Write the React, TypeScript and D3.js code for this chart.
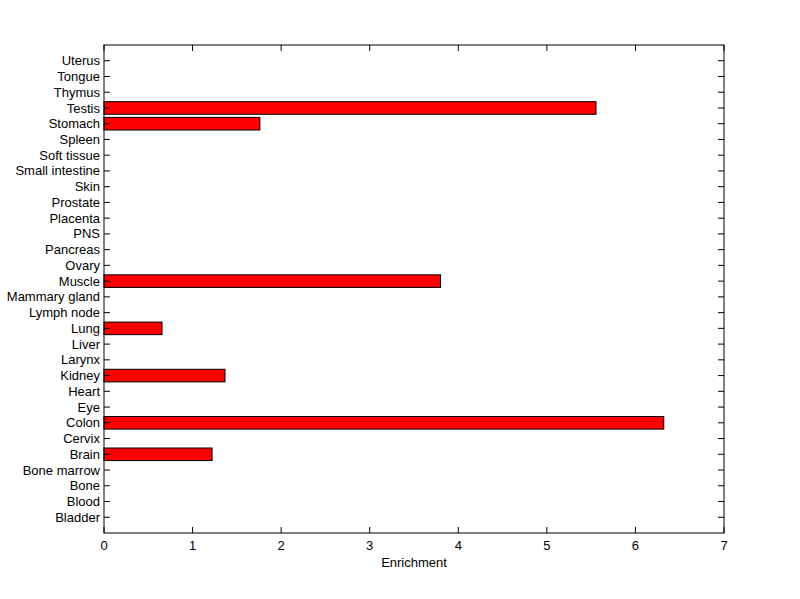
import React from "react";
import * as d3 from "d3";

const categories = [
  "Bladder", "Blood", "Bone", "Bone marrow", "Brain", "Cervix", "Colon", "Eye", "Heart", "Kidney",
  "Larynx", "Liver", "Lung", "Lymph node", "Mammary gland", "Muscle", "Ovary", "Pancreas", "PNS",
  "Placenta", "Prostate", "Skin", "Small intestine", "Soft tissue", "Spleen", "Stomach", "Testis",
  "Thymus", "Tongue", "Uterus",
];
const values = [
  0, 0, 0, 0, 1.22, 0, 6.32, 0, 0, 1.366,
  0, 0, 0.655, 0, 0, 3.8, 0, 0, 0,
  0, 0, 0, 0, 0, 0, 1.76, 5.555,
  0, 0, 0,
];
const xTicks = [0, 1, 2, 3, 4, 5, 6, 7];
const xLabel = "Enrichment";

export default function App() {
  const W = 800, H = 599;
  const left = 104, right = 724, top = 45, bottom = 533;
  const x = d3.scaleLinear().domain([0, 7]).range([left, right]);
  const y = d3.scaleLinear().domain([0, categories.length + 1]).range([bottom, top]);
  const bh = 0.8 * (y(0) - y(1));
  const tl = 6;
  const font = "Liberation Sans, Arial, sans-serif";
  const fs = 13;
  return (
    <svg width={W} height={H} style={{ position: "absolute", left: 0, top: 0, background: "#fff" }}>
      <rect x={0} y={0} width={W} height={H} fill="#fff" />
      {values.map((v, i) =>
        v > 0 ? (
          <rect key={i} x={x(0)} y={y(i + 1) - bh / 2} width={x(v) - x(0)} height={bh}
            fill="#ff0000" stroke="#000" strokeWidth={1} />
        ) : null
      )}
      <rect x={left} y={top} width={right - left} height={bottom - top} fill="none" stroke="#000" strokeWidth={1} />
      {categories.map((c, i) => (
        <g key={c}>
          <line x1={left} x2={left + tl} y1={y(i + 1)} y2={y(i + 1)} stroke="#000" />
          <line x1={right} x2={right - tl} y1={y(i + 1)} y2={y(i + 1)} stroke="#000" />
          <text x={left - 4} y={y(i + 1)} dy="0.35em" textAnchor="end" fontFamily={font} fontSize={fs}>{c}</text>
        </g>
      ))}
      {xTicks.map((t) => (
        <g key={t}>
          <line x1={x(t)} x2={x(t)} y1={bottom} y2={bottom - tl} stroke="#000" />
          <line x1={x(t)} x2={x(t)} y1={top} y2={top + tl} stroke="#000" />
          <text x={x(t)} y={bottom + 17} textAnchor="middle" fontFamily={font} fontSize={fs}>{t}</text>
        </g>
      ))}
      <text x={(left + right) / 2} y={bottom + 34} textAnchor="middle" fontFamily={font} fontSize={fs}>{xLabel}</text>
    </svg>
  );
}
